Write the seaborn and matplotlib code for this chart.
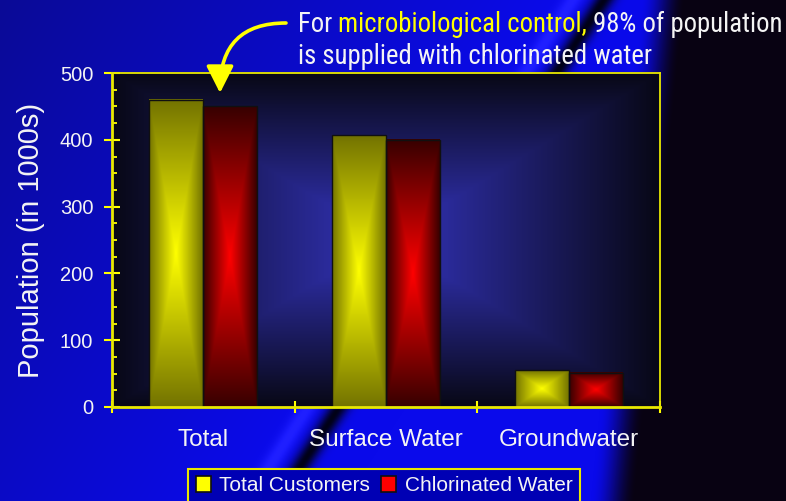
import numpy as np
import pandas as pd
import matplotlib
matplotlib.use("Agg")
import matplotlib.pyplot as plt
import seaborn as sns
from matplotlib import font_manager
from matplotlib.font_manager import FontProperties
from matplotlib.text import Annotation
from matplotlib.ticker import MultipleLocator

categories = ["Total", "Surface Water", "Groundwater"]
series_names = ["Total Customers", "Chlorinated Water"]
total_customers = [460, 407, 55]
chlorinated_water = [450, 400, 51]
y_ticks = [0, 100, 200, 300, 400, 500]

df = pd.DataFrame({
    "source": categories * 2,
    "series": [series_names[0]] * 3 + [series_names[1]] * 3,
    "population": total_customers + chlorinated_water,
})

W, H = 786, 501
YELLOW = "#ffff00"
WHITE = "#f4f4f4"

sns.set_theme(style="white")
plt.rcParams["font.family"] = ["Liberation Sans", "DejaVu Sans"]


def find_narrow():
    # a condensed sans face for the callout, if one is installed
    fonts = font_manager.fontManager.ttflist
    for nm in ["Liberation Sans Narrow", "Arial Narrow", "Roboto Condensed",
               "Open Sans Condensed", "Noto Sans Condensed", "DejaVu Sans Condensed"]:
        for f in fonts:
            if f.name == nm and f.style == "normal" and f.weight in (400, "normal", "regular"):
                return FontProperties(fname=f.fname)
    for f in fonts:
        st = str(f.stretch).lower()
        if ("condensed" in st or "narrow" in st or "condensed" in f.fname.lower()) \
                and "extra" not in st and "ultra" not in st \
                and f.style == "normal" and f.weight in (400, "normal", "regular") \
                and "Mono" not in f.name and "Serif" not in f.name:
            return FontProperties(fname=f.fname)
    return FontProperties(family="Liberation Sans")


narrow = find_narrow()


def pillow(center, edge, n=200):
    # rectangular "from centre" gradient, bright middle, dark border
    u = np.linspace(-1, 1, n)
    U, V = np.meshgrid(u, u)
    t = np.maximum(np.abs(U), np.abs(V))[..., None]
    c = np.array(center) / 255
    e = np.array(edge) / 255
    return c * (1 - t) + e * t


fig = plt.figure(figsize=(W / 100, H / 100), dpi=100)

# slide background: blue with a diagonal streak, dark towards the right
yy, xx = np.mgrid[0:H, 0:W].astype(float)
c = xx + 0.65 * yy
blue = 150 + 85 * np.clip(c / 570, 0, 1)
red = np.full_like(blue, 10.0)
grn = np.full_like(blue, 10.0)
bright = np.exp(-((c - 572) / 10) ** 2)
dark = np.exp(-((c - 603) / 11) ** 2)
blue = (blue + 25 * bright) * (1 - 0.9 * dark)
red = (red + 22 * bright) * (1 - 0.9 * dark)
grn = (grn + 22 * bright) * (1 - 0.9 * dark)
fd = np.clip((xx - (640 - 0.1 * yy)) / 45, 0, 1)
fd = fd * fd * (3 - 2 * fd)
bg = np.stack([red * (1 - fd) + 8 * fd,
               grn * (1 - fd) + 2 * fd,
               blue * (1 - fd) + 18 * fd], axis=-1) / 255
fig.figimage(np.clip(bg, 0, 1), xo=0, yo=0, origin="upper", zorder=-5)

ax = fig.add_axes([112 / W, (H - 407) / H, 548 / W, 334 / H])

sns.barplot(data=df, x="source", y="population", hue="series",
            palette=[YELLOW, "#ff0000"], width=0.59, saturation=1,
            edgecolor="#101010", linewidth=1, ax=ax)

# plot area gradient
ax.imshow(pillow((52, 52, 190), (8, 8, 22)), extent=[0, 1, 0, 1],
          transform=ax.transAxes, aspect="auto", zorder=0.5,
          interpolation="bilinear")

# shaded bars
for p in ax.patches:
    h = p.get_height()
    if h <= 0:
        continue
    fc = p.get_facecolor()
    if fc[1] > 0.5:
        grad = pillow((255, 255, 0), (115, 115, 0))
    else:
        grad = pillow((255, 0, 0), (55, 0, 0))
    x0, w = p.get_x(), p.get_width()
    ax.imshow(grad, extent=[x0, x0 + w, 0, h], aspect="auto", zorder=2.5,
              interpolation="bilinear")
    p.set_facecolor("none")
    p.set_zorder(3)

leg = ax.get_legend()
handles = list(leg.legend_handles)
leg.remove()

ax.set_xlim(-0.5, 2.5)
ax.set_ylim(0, 500)
ax.set_yticks(y_ticks)
ax.yaxis.set_minor_locator(MultipleLocator(25))
ax.set_xticks([-0.5, 0.5, 1.5, 2.5], minor=True)
ax.set_xlabel("")
ax.set_ylabel("Population (in 1000s)", fontsize=21, color=WHITE)
ax.yaxis.set_label_coords(-0.122, 0.5)

ax.tick_params(axis="y", which="major", left=True, direction="inout", length=11,
               width=1.5, color=YELLOW, labelsize=14.5, labelcolor=WHITE, pad=8)
ax.tick_params(axis="y", which="minor", left=True, direction="in", length=3.5,
               width=1.3, color=YELLOW)
ax.tick_params(axis="x", which="major", bottom=True, length=0, labelsize=17.5,
               labelcolor=WHITE, pad=16)
ax.tick_params(axis="x", which="minor", bottom=True, direction="inout", length=9,
               width=1.5, color=YELLOW)

for side, sp in ax.spines.items():
    sp.set_visible(True)
    sp.set_color("#e8e800")
    sp.set_linewidth(2.0 if side in ("left", "bottom") else 1.3)
    sp.set_zorder(4)

# legend at the bottom
for hd in handles:
    hd.set_edgecolor("#101010")
    hd.set_linewidth(1.2)
lg = fig.legend(handles, series_names, loc="upper center",
                bbox_to_anchor=(384 / W, (H - 469) / H), ncol=2,
                fontsize=15, labelcolor=WHITE, frameon=True, fancybox=False,
                framealpha=1, borderpad=0.35, handlelength=0.75,
                handleheight=0.75, handletextpad=0.4, columnspacing=0.5,
                borderaxespad=0)
lg.get_frame().set_facecolor("#0000b4")
lg.get_frame().set_edgecolor("#e8e800")
lg.get_frame().set_linewidth(1.5)

# callout text, two colours on the first line
fs = 20
gap = 0.22 * fs
t1 = fig.text(298 / W, (H - 32) / H, "For", color=WHITE, fontproperties=narrow,
              fontsize=fs, va="baseline", ha="left")
t2 = fig.add_artist(Annotation(
    "microbiological control,", xy=(1, 0), xycoords=t1, xytext=(gap, 0),
    textcoords="offset points", va="bottom", ha="left", color=YELLOW,
    fontproperties=narrow, fontsize=fs))
t3 = fig.add_artist(Annotation(
    "98% of population", xy=(1, 0), xycoords=t2, xytext=(gap, 0),
    textcoords="offset points", va="bottom", ha="left", color=WHITE,
    fontproperties=narrow, fontsize=fs))
t4 = fig.text(298 / W, (H - 64) / H, "is supplied with chlorinated water",
              color=WHITE, fontproperties=narrow, fontsize=fs,
              va="baseline", ha="left")

# fit the first line to the width it has in the slide (x 298 -> 782)
fig.canvas.draw()
r = fig.canvas.get_renderer()
span = t3.get_window_extent(r).x1 - t1.get_window_extent(r).x0
if span > 484:
    fs = fs * 484 / span
    for t in (t1, t2, t3, t4):
        t.set_fontsize(fs)
    t2.xyann = (0.22 * fs, 0)
    t3.xyann = (0.22 * fs, 0)

fig.add_artist(Annotation(
    "", xy=(220, H - 93), xycoords="figure pixels",
    xytext=(286, H - 23), textcoords="figure pixels",
    arrowprops=dict(arrowstyle="-|>,head_length=1.03,head_width=0.52",
                    connectionstyle="angle3,angleA=0,angleB=90",
                    color=YELLOW, lw=2.6, mutation_scale=16,
                    shrinkA=0, shrinkB=0), zorder=6))

fig.savefig("out.png", dpi=100)
